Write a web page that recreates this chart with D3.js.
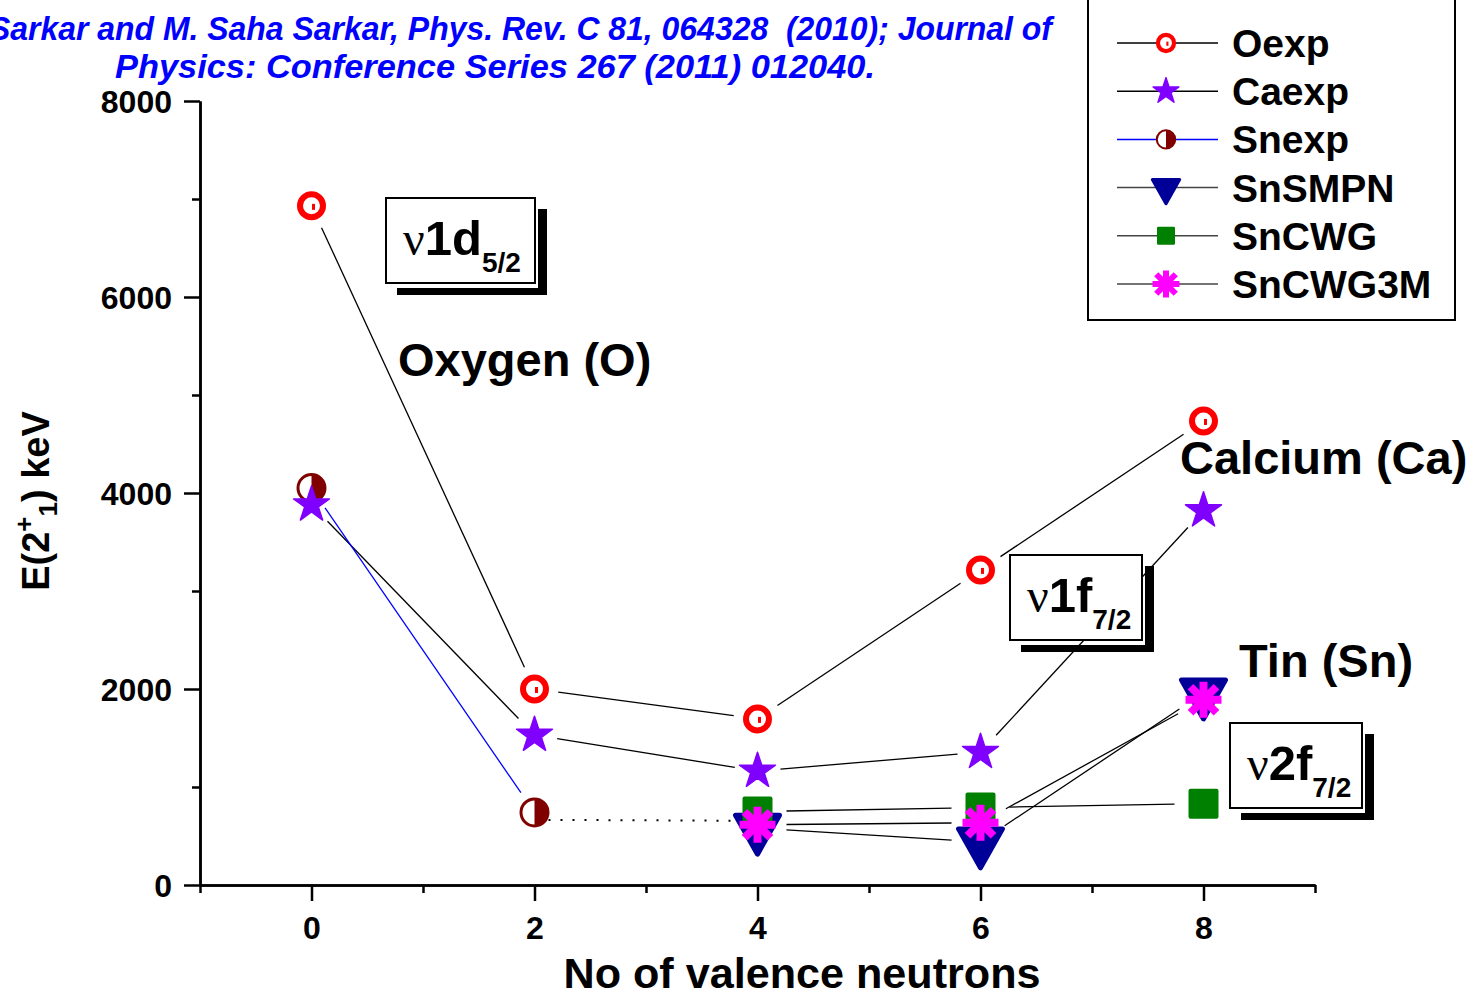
<!DOCTYPE html>
<html><head><meta charset="utf-8">
<script src="https://cdn.jsdelivr.net/npm/d3@7"></script>
<style>
body{margin:0;background:#fff;}
svg{display:block;}
text{font-family:"Liberation Sans",Arial,sans-serif;font-weight:bold;}
</style>
</head><body>
<svg id="chart" width="1470" height="997"></svg>
<script>
// ---------- data ----------
const neutrons = [0, 2, 4, 6, 8];
const oExp = [6930, 2000, 1695, 3215, 4735];
const caExp = [3880, 1530, 1163, 1355, 3820];
const snExpX = [0, 2];
const snExp = [4050, 740];
const snExpDottedX = [2, 4];
const snExpDotted = [665, 655];
const snTheoryX = [4, 6, 8];
const snSMPN = [580, 440, 1960];
const snCWG = [750, 790, 830];
const snCWG3M = [615, 635, 1890];
const xTicksMajor = [0, 2, 4, 6, 8];
const xTicksMinor = [-1, 1, 3, 5, 7, 9];
const yTicksMajor = [0, 2000, 4000, 6000, 8000];
const yTicksMinor = [1000, 3000, 5000, 7000];
const legendNames = ["Oexp", "Caexp", "Snexp", "SnSMPN", "SnCWG", "SnCWG3M"];
const titleLines = ["S. Sarkar and M. Saha Sarkar, Phys. Rev. C 81, 064328  (2010); Journal of",
                    "Physics: Conference Series 267 (2011) 012040."];
const regionLabels = ["Oxygen (O)", "Calcium (Ca)", "Tin (Sn)"];
const orbitals = [["\u03BD", "1d", "5/2"], ["\u03BD", "1f", "7/2"], ["\u03BD", "2f", "7/2"]];

// ---------- setup ----------
const svg = d3.select("#chart");
const x = d3.scaleLinear().domain([-1, 9]).range([200, 1315]);
const y = d3.scaleLinear().domain([0, 8000]).range([885, 101]);

// ---------- axes ----------
function styleAxis(g) {
  g.selectAll("path.domain").attr("stroke", "#000").attr("stroke-width", 2.5);
  g.selectAll(".tick line").attr("stroke", "#000").attr("stroke-width", 2.5);
}
const gx = svg.append("g").attr("transform", "translate(0,885)");
gx.append("g").call(d3.axisBottom(x).tickValues(xTicksMinor).tickSize(8).tickSizeOuter(0).tickFormat(""))
  .call(styleAxis);
gx.append("g").call(d3.axisBottom(x).tickValues(xTicksMajor).tickSize(16).tickSizeOuter(0).tickFormat(d3.format("d")))
  .call(styleAxis)
  .call(g => g.selectAll("text").attr("y", 54).attr("dy", null).attr("font-size", 32)
    .attr("fill", "#000").attr("font-family", "Liberation Sans, Arial").attr("font-weight", "bold"));
const gy = svg.append("g").attr("transform", "translate(200,0)");
gy.append("g").call(d3.axisLeft(y).tickValues(yTicksMinor).tickSize(8).tickSizeOuter(0).tickFormat(""))
  .call(styleAxis);
gy.append("g").call(d3.axisLeft(y).tickValues(yTicksMajor).tickSize(16).tickSizeOuter(0).tickFormat(d3.format("d")))
  .call(styleAxis)
  .call(g => g.selectAll("text").attr("x", -28).attr("dy", "0.35em").attr("font-size", 32)
    .attr("fill", "#000").attr("font-family", "Liberation Sans, Arial").attr("font-weight", "bold"));

// axis titles
svg.append("text").attr("x", 802).attr("y", 988).attr("text-anchor", "middle")
  .attr("font-size", 42).attr("textLength", 477).attr("lengthAdjust", "spacingAndGlyphs")
  .text("No of valence neutrons");
const yl = svg.append("text").attr("transform", "translate(49,501) rotate(-90)")
  .attr("text-anchor", "middle").attr("font-size", 38);
yl.append("tspan").text("E(2");
yl.append("tspan").attr("font-size", 26).attr("dy", -16).text("+");
yl.append("tspan").attr("font-size", 26).attr("dy", 24).text("1");
yl.append("tspan").attr("dy", -8).text(") keV");

// title (blue italic, clipped at the left edge as in the source figure)
svg.append("text").attr("x", -50).attr("y", 40).attr("fill", "#0000ff").attr("font-style", "italic")
  .style("white-space", "pre")
  .attr("font-size", 33).attr("textLength", 1102).attr("lengthAdjust", "spacingAndGlyphs").text(titleLines[0]);
svg.append("text").attr("x", 115).attr("y", 78).attr("fill", "#0000ff").attr("font-style", "italic")
  .attr("font-size", 33).attr("textLength", 760).attr("lengthAdjust", "spacingAndGlyphs").text(titleLines[1]);

// ---------- lines ----------
function segments(xs, ys, gap) {
  const pts = xs.map((d, i) => [x(d), y(ys[i])]);
  const out = [];
  for (let i = 0; i < pts.length - 1; i++) {
    const [x1, y1] = pts[i], [x2, y2] = pts[i + 1];
    const L = Math.hypot(x2 - x1, y2 - y1);
    const ux = (x2 - x1) / L, uy = (y2 - y1) / L;
    out.push([x1 + ux * gap, y1 + uy * gap, x2 - ux * gap, y2 - uy * gap]);
  }
  return out;
}
const lineSpecs = [
  {xs: neutrons, ys: oExp, gap: 24, color: "#000", dash: null},
  {xs: neutrons, ys: caExp, gap: 23, color: "#000", dash: null},
  {xs: snExpX, ys: snExp, gap: 24, color: "#0000ff", dash: null},
  {xs: snExpDottedX, ys: snExpDotted, gap: 14, color: "#000", dash: "2,10"},
  {xs: snTheoryX, ys: snSMPN, gap: 29, color: "#000", dash: null},
  {xs: snTheoryX, ys: snCWG, gap: 29, color: "#000", dash: null},
  {xs: snTheoryX, ys: snCWG3M, gap: 29, color: "#000", dash: null}
];
const gLines = svg.append("g");
lineSpecs.forEach(s => {
  gLines.selectAll(null).data(segments(s.xs, s.ys, s.gap)).enter().append("line")
    .attr("x1", d => d[0]).attr("y1", d => d[1]).attr("x2", d => d[2]).attr("y2", d => d[3])
    .attr("stroke", s.color).attr("stroke-width", s.dash ? 2 : 1.3)
    .attr("stroke-dasharray", s.dash);
});

// ---------- annotation boxes ----------
const boxLayout = [[386, 198], [1010, 555], [1230, 723]];
boxLayout.forEach((b, i) => {
  const [bx, by] = b, w = 149 - (i > 0 ? 17 : 0), h = 85;
  const g = svg.append("g");
  g.append("rect").attr("x", bx + w + 3).attr("y", by + 11).attr("width", 9).attr("height", h + 1).attr("fill", "#000");
  g.append("rect").attr("x", bx + 11).attr("y", by + h + 5).attr("width", w + 1).attr("height", 7).attr("fill", "#000");
  g.append("rect").attr("x", bx).attr("y", by).attr("width", w).attr("height", h)
    .attr("fill", "#fff").attr("stroke", "#000").attr("stroke-width", 2);
  const t = g.append("text").attr("x", bx + 17).attr("y", by + 57);
  t.append("tspan").attr("font-family", "Liberation Serif, serif").attr("font-weight", "normal")
    .attr("font-size", 48).text(orbitals[i][0]);
  t.append("tspan").attr("font-size", 49).text(orbitals[i][1]);
  t.append("tspan").attr("font-size", 28).attr("dy", 17).text(orbitals[i][2]);
});

// region labels
const labelPos = [[398, 376], [1180, 474], [1239, 677]];
regionLabels.forEach((l, i) => {
  svg.append("text").attr("x", labelPos[i][0]).attr("y", labelPos[i][1]).attr("font-size", 47).text(l);
});

// ---------- markers ----------
function marker(g, type, s) {
  if (type === "ring") {
    g.append("circle").attr("r", 11.5 * s).attr("fill", "#fff").attr("stroke", "#ff0000").attr("stroke-width", 6 * s);
    g.append("rect").attr("x", 0.5 * s).attr("y", -2 * s).attr("width", 3 * s).attr("height", 6 * s).attr("fill", "#ff0000");
  } else if (type === "star") {
    g.append("path").attr("d", d3.symbol(d3.symbolStar, 400 * s * s)()).attr("fill", "#8000ff")
      .attr("stroke", "#8000ff").attr("stroke-width", 1.5).attr("stroke-linejoin", "round");
  } else if (type === "half") {
    const r = 13.5 * s;
    g.append("circle").attr("r", r).attr("fill", "#fff").attr("stroke", "#800000").attr("stroke-width", 3 * s);
    g.append("path").attr("d", `M0,${-r}A${r},${r} 0 0 1 0,${r}Z`).attr("fill", "#800000");
  } else if (type === "tri") {
    const w = 22 * s, top = -13 * s, bot = 26 * s;
    g.append("path").attr("d", `M${-w},${top}L${w},${top}L0,${bot}Z`).attr("fill", "#000099")
      .attr("stroke", "#000099").attr("stroke-width", 5 * s).attr("stroke-linejoin", "round");
  } else if (type === "square") {
    const a = 13 * s;
    g.append("rect").attr("x", -a).attr("y", -a).attr("width", 2 * a).attr("height", 2 * a)
      .attr("fill", "#008000").attr("stroke", "#008000").attr("stroke-width", 4 * s).attr("stroke-linejoin", "round");
  } else if (type === "ast") {
    const L = 18 * s, D = 13 * s;
    [[0, -L, 0, L], [-L, 0, L, 0], [-D, -D, D, D], [-D, D, D, -D]].forEach(c => {
      g.append("line").attr("x1", c[0]).attr("y1", c[1]).attr("x2", c[2]).attr("y2", c[3])
        .attr("stroke", "#ff00ff").attr("stroke-width", 8 * s);
    });
  }
}
const markerSpecs = [
  {xs: neutrons, ys: oExp, type: "ring"},
  {xs: snExpX, ys: snExp, type: "half"},
  {xs: neutrons, ys: caExp, type: "star"},
  {xs: snTheoryX, ys: snSMPN, type: "tri"},
  {xs: snTheoryX, ys: snCWG, type: "square"},
  {xs: snTheoryX, ys: snCWG3M, type: "ast"}
];
markerSpecs.forEach(s => {
  s.xs.forEach((xv, i) => {
    const g = svg.append("g").attr("transform", `translate(${x(xv)},${y(s.ys[i])})`);
    marker(g, s.type, 1);
  });
});

// ---------- legend ----------
const lg = svg.append("g");
lg.append("rect").attr("x", 1088).attr("y", -10).attr("width", 367).attr("height", 330)
  .attr("fill", "#fff").attr("stroke", "#000").attr("stroke-width", 2);
const legendTypes = ["ring", "star", "half", "tri", "square", "ast"];
const legendScales = [0.7, 0.72, 0.68, 0.62, 0.6, 0.75];
const legendColors = ["#000", "#000", "#0000ff", "#444", "#444", "#444"];
legendNames.forEach((n, i) => {
  const yy = 43 + i * 48.2;
  lg.append("line").attr("x1", 1117).attr("x2", 1218).attr("y1", yy).attr("y2", yy)
    .attr("stroke", legendColors[i]).attr("stroke-width", 1.5);
  marker(lg.append("g").attr("transform", `translate(1166,${yy})`), legendTypes[i], legendScales[i]);
  lg.append("text").attr("x", 1232).attr("y", yy).attr("dy", "0.36em").attr("font-size", 39).text(n);
});
</script>
</body></html>
